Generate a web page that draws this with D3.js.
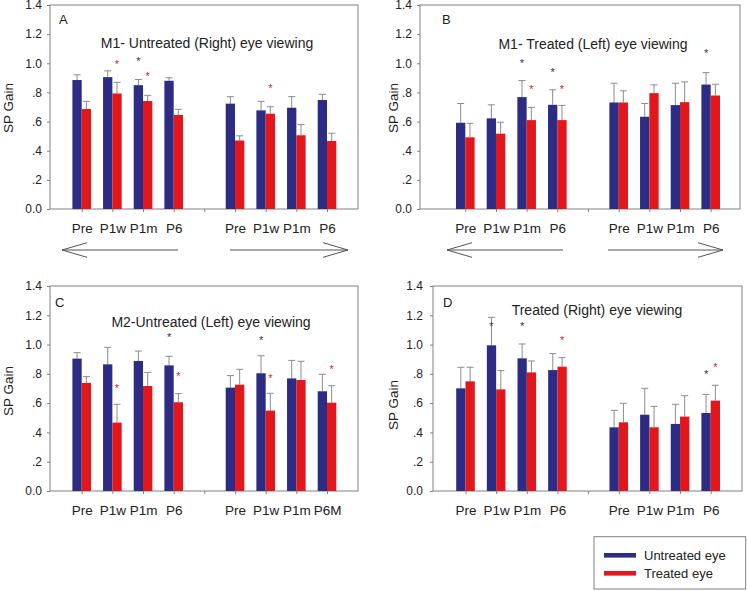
<!DOCTYPE html>
<html><head><meta charset="utf-8">
<script src="https://cdn.jsdelivr.net/npm/d3@7"></script>
<style>body{margin:0;background:#fff}svg{display:block}</style>
</head><body><svg id="chart" width="747" height="591"></svg>
<script>
// ---------- data ----------
const slots = ["L-Pre","L-P1w","L-P1m","L-P6","gap","R-Pre","R-P1w","R-P1m","R-P6"];
const barSlots = slots.filter(s => s !== "gap");
const tickLabelsStd = ["Pre","P1w","P1m","P6","","Pre","P1w","P1m","P6"];
const tickLabelsC   = ["Pre","P1w","P1m","P6","","Pre","P1w","P1m","P6M"];
const yTicks = [0,0.2,0.4,0.6,0.8,1.0,1.2,1.4];
const yTickLabels = ["0.0",".2",".4",".6",".8","1.0","1.2","1.4"];
const seriesNames = ["Untreated eye","Treated eye"];
const yAxisTitle = "SP Gain";

// Panel A
const untreatedA    = [0.885,0.905,0.850,0.880, 0.723,0.677,0.695,0.748];
const untreatedSeA  = [0.036,0.043,0.039,0.021, 0.048,0.062,0.076,0.039];
const treatedA      = [0.686,0.793,0.741,0.645, 0.470,0.654,0.506,0.467];
const treatedSeA    = [0.053,0.076,0.039,0.039, 0.032,0.048,0.073,0.053];
const starsA = [["L-P1w","t",1.01],["L-P1m","u",1.03],["L-P1m","t",0.926],["R-P1w","t",0.85]];
// Panel B
const untreatedB    = [0.592,0.622,0.768,0.715, 0.731,0.633,0.713,0.854];
const untreatedSeB  = [0.132,0.093,0.114,0.103, 0.132,0.091,0.150,0.082];
const treatedB      = [0.492,0.517,0.610,0.610, 0.731,0.795,0.733,0.779];
const treatedSeB    = [0.096,0.078,0.087,0.101, 0.080,0.057,0.139,0.077];
const starsB = [["L-P1m","u",1.02],["L-P1m","t",0.838],["L-P6","u",0.954],["L-P6","t",0.838],["R-P6","u",1.089]];
// Panel C
const untreatedC    = [0.904,0.865,0.888,0.858, 0.706,0.804,0.769,0.681];
const untreatedSeC  = [0.041,0.116,0.068,0.062, 0.082,0.120,0.123,0.116];
const treatedC      = [0.738,0.467,0.717,0.606, 0.726,0.549,0.758,0.603];
const treatedSeC    = [0.043,0.125,0.093,0.059, 0.105,0.118,0.128,0.116];
const starsC = [["L-P1w","t",0.719],["L-P6","u",1.07],["L-P6","t",0.799],["R-P1w","u",1.047],["R-P1w","t",0.785],["R-P6","t",0.847]];
// Panel D
const untreatedD    = [0.701,0.995,0.906,0.826, 0.435,0.521,0.458,0.533];
const untreatedSeD  = [0.144,0.191,0.098,0.112, 0.116,0.180,0.134,0.127];
const treatedD      = [0.749,0.694,0.810,0.849, 0.469,0.435,0.508,0.617];
const treatedSeD    = [0.096,0.128,0.078,0.062, 0.130,0.143,0.143,0.105];
const starsD = [["L-P1w","u",1.145],["L-P1m","u",1.14],["L-P6","t",1.047],["R-P6","u",0.815],["R-P6","t",0.86]];

// ---------- layout ----------
const colors = {u:"#2c2c84", t:"#e2161b"};
const errColor = "#8c8c8c", frameColor = "#808080", textColor = "#222";
const font = "'Liberation Sans', Arial, Helvetica, sans-serif";
const barW = 9.3;

const panels = [
  {letter:"A", title:"M1- Untreated (Right) eye viewing", u:untreatedA, ue:untreatedSeA, t:treatedA, te:treatedSeA, stars:starsA, labels:tickLabelsStd,
   frame:[50,358,5,209], pts:[81.7,327], letterPos:[59,24], titlePos:[207,48], yLab:[13,108], tickPad:5, arrows:[62,178,230,348,250]},
  {letter:"B", title:"M1- Treated (Left) eye viewing", u:untreatedB, ue:untreatedSeB, t:treatedB, te:treatedSeB, stars:starsB, labels:tickLabelsStd,
   frame:[420,740,5,209], pts:[465.3,710.7], letterPos:[442,24], titlePos:[593,49], yLab:[398,108], tickPad:5, arrows:[447,563,608,723,250]},
  {letter:"C", title:"M2-Untreated (Left) eye viewing", u:untreatedC, ue:untreatedSeC, t:treatedC, te:treatedSeC, stars:starsC, labels:tickLabelsC,
   frame:[50,358,286,491], pts:[81.7,327], letterPos:[55,307], titlePos:[211,327], yLab:[13,391], tickPad:5, arrows:null},
  {letter:"D", title:"Treated (Right) eye viewing", u:untreatedD, ue:untreatedSeD, t:treatedD, te:treatedSeD, stars:starsD, labels:tickLabelsStd,
   frame:[433,742,286,491], pts:[465.5,710.7], letterPos:[443,307], titlePos:[597,315], yLab:[398,405], tickPad:7, arrows:null}
];

const svg = d3.select("#chart");
svg.append("rect").attr("width",747).attr("height",591).attr("fill","#fff");

panels.forEach(p => {
  const [x0,x1,y0,y1] = p.frame;
  const x = d3.scalePoint().domain(slots).range(p.pts);
  const y = d3.scaleLinear().domain([0,1.4]).range([y1,y0]);
  const g = svg.append("g");

  // frame
  g.append("rect").attr("x",x0).attr("y",y0).attr("width",x1-x0).attr("height",y1-y0)
    .attr("fill","none").attr("stroke",frameColor).attr("stroke-width",1);

  // y axis
  const ya = g.append("g").attr("transform",`translate(${x0},0)`)
    .call(d3.axisLeft(y).tickValues(yTicks).tickFormat((d,i)=>yTickLabels[i]).tickSize(3).tickPadding(p.tickPad));
  ya.select(".domain").remove();
  ya.selectAll("line").attr("stroke",frameColor);
  ya.selectAll("text").attr("font-family",font).attr("font-size",12).attr("fill",textColor);

  // x axis
  const xa = g.append("g").attr("transform",`translate(0,${y1})`)
    .call(d3.axisBottom(x).tickSize(3).tickPadding(11).tickFormat((d,i)=>p.labels[i]));
  xa.select(".domain").remove();
  xa.selectAll("line").attr("stroke",frameColor);
  xa.selectAll("text").attr("font-family",font).attr("font-size",13.5).attr("fill",textColor);

  // bars
  const rows = barSlots.map((s,i)=>({s, u:p.u[i], ue:p.ue[i], t:p.t[i], te:p.te[i]}));
  const series = [{k:"u", off:-barW, v:"u", e:"ue"},{k:"t", off:0, v:"t", e:"te"}];
  series.forEach(se => {
    // error bars
    g.selectAll(null).data(rows).enter().append("line")
      .attr("x1",d=>x(d.s)+se.off+barW/2).attr("x2",d=>x(d.s)+se.off+barW/2)
      .attr("y1",d=>y(d[se.v])).attr("y2",d=>y(d[se.v]+d[se.e]))
      .attr("stroke",errColor).attr("stroke-width",1);
    g.selectAll(null).data(rows).enter().append("line")
      .attr("x1",d=>x(d.s)+se.off+barW/2-3.5).attr("x2",d=>x(d.s)+se.off+barW/2+3.5)
      .attr("y1",d=>y(d[se.v]+d[se.e])).attr("y2",d=>y(d[se.v]+d[se.e]))
      .attr("stroke",errColor).attr("stroke-width",1);
    g.selectAll(null).data(rows).enter().append("rect")
      .attr("x",d=>x(d.s)+se.off).attr("width",barW)
      .attr("y",d=>y(d[se.v])).attr("height",d=>y(0)-y(d[se.v]))
      .attr("fill",colors[se.k]);
  });

  // significance stars
  g.selectAll(null).data(p.stars).enter().append("text")
    .attr("x",d=>x(d[0]) + (d[1]==="u" ? -barW/2 : barW/2))
    .attr("y",d=>y(d[2]) + 6.4)
    .attr("text-anchor","middle").attr("font-family",font).attr("font-size",11)
    .attr("fill",d=>colors[d[1]]).text("*");

  // letter & title
  g.append("text").attr("x",p.letterPos[0]).attr("y",p.letterPos[1])
    .attr("font-family",font).attr("font-size",13).attr("fill",textColor).text(p.letter);
  g.append("text").attr("x",p.titlePos[0]).attr("y",p.titlePos[1]).attr("text-anchor","middle")
    .attr("font-family",font).attr("font-size",14).attr("fill",textColor).text(p.title);

  // y axis title
  g.append("text").attr("transform",`translate(${p.yLab[0]},${p.yLab[1]}) rotate(-90)`)
    .attr("text-anchor","middle").attr("font-family",font).attr("font-size",13.5).attr("fill",textColor).text(yAxisTitle);

  // direction arrows
  if (p.arrows) {
    const [la,lb,ra,rb,ay] = p.arrows;
    const ac = "#555";
    g.append("path").attr("d",`M${lb},${ay}H${la}M${la+25},${ay-7.3}L${la},${ay}L${la+25},${ay+7.3}`)
      .attr("fill","none").attr("stroke",ac).attr("stroke-width",1);
    g.append("path").attr("d",`M${ra},${ay}H${rb}M${rb-25},${ay-7.3}L${rb},${ay}L${rb-25},${ay+7.3}`)
      .attr("fill","none").attr("stroke",ac).attr("stroke-width",1);
  }
});

// legend
const lg = svg.append("g");
lg.append("rect").attr("x",594).attr("y",536.7).attr("width",151.7).attr("height",52.3)
  .attr("fill","#fff").attr("stroke",frameColor).attr("stroke-width",1);
const legendItems = [{name:seriesNames[0], k:"u", cy:555.3, ty:559.5},{name:seriesNames[1], k:"t", cy:573.3, ty:577.5}];
lg.selectAll(null).data(legendItems).enter().append("rect")
  .attr("x",604).attr("y",d=>d.cy-2.3).attr("width",32).attr("height",4.6).attr("fill",d=>colors[d.k]);
lg.selectAll(null).data(legendItems).enter().append("text")
  .attr("x",644).attr("y",d=>d.ty).attr("font-family",font).attr("font-size",13).attr("fill",textColor).text(d=>d.name);
</script></body></html>
